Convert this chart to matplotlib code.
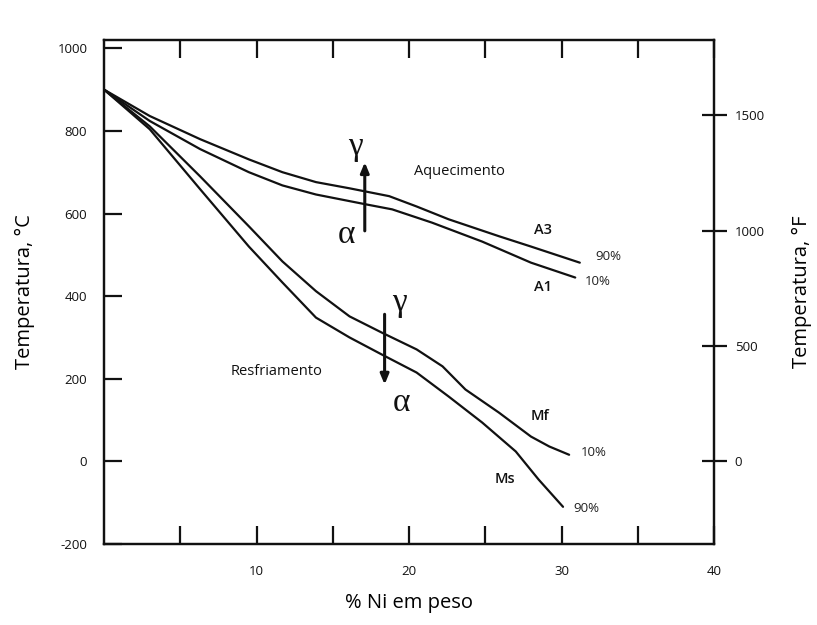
import numpy as np
import matplotlib
matplotlib.use("Agg")
import matplotlib.pyplot as plt

plt.rcParams['font.family'] = ['Open Sans', 'DejaVu Sans']
plt.rcParams['axes.unicode_minus'] = False

# % Ni (weight) vs transformation temperature, degC
a3_x = [0, 3.0, 6.3, 9.5, 11.7, 13.9, 16.1, 18.7, 20.5, 22.6, 25.9, 28.0, 31.2]
a3_y = [900, 836, 780, 731, 700, 676, 661, 642, 617, 586, 545, 520, 481]

a1_x = [0, 3.0, 6.3, 9.5, 11.7, 13.9, 17.2, 18.9, 21.5, 24.8, 28.0, 30.9]
a1_y = [900, 824, 756, 700, 668, 646, 622, 610, 578, 532, 481, 445]

mf_x = [0, 3.0, 6.3, 9.5, 11.7, 13.9, 16.1, 18.2, 20.5, 22.2, 23.7, 25.9, 28.0, 29.2, 30.5]
mf_y = [900, 811, 690, 569, 484, 412, 351, 312, 271, 230, 174, 118, 60, 36, 16]

ms_x = [0, 3.0, 6.3, 9.5, 11.7, 13.9, 16.1, 18.2, 20.5, 22.6, 24.8, 27.0, 28.5, 30.1]
ms_y = [900, 804, 659, 520, 433, 348, 300, 259, 215, 157, 94, 24, -44, -110]

c_ticks = [-200, 0, 200, 400, 600, 800, 1000]
f_ticks = [0, 500, 1000, 1500]
x_ticks = [5, 10, 15, 20, 25, 30, 35, 40]
f_per_c = 1.79

fig = plt.figure(figsize=(8.17, 6.25), dpi=100)
ax = fig.add_axes([104/817, 1 - 544/625, (714 - 104)/817, (544 - 40)/625])

for xs, ys in [(a3_x, a3_y), (a1_x, a1_y), (mf_x, mf_y), (ms_x, ms_y)]:
    ax.plot(xs, ys, color='#111111', lw=1.6, solid_joinstyle='round',
            solid_capstyle='round')

ax.set_xlim(0, 40)
ax.set_ylim(-200, 1020)
ax.set_xticks(x_ticks)
ax.set_xticklabels([str(t) if t % 10 == 0 else '' for t in x_ticks])
ax.set_yticks(c_ticks)
ax.tick_params(axis='x', direction='in', length=13, width=1.6, pad=15,
               labelsize=9.5, top=True, colors='#111111')
ax.tick_params(axis='y', direction='in', length=13, width=1.6, pad=12,
               labelsize=9.5, colors='#111111')
for s in ax.spines.values():
    s.set_linewidth(1.6)
    s.set_color('#111111')

ax.set_xlabel('% Ni em peso', fontsize=14.5, labelpad=11)
ax.set_ylabel('Temperatura, °C', fontsize=14.5, labelpad=16)

# Fahrenheit scale on the right
ax2 = ax.twinx()
ax2.set_ylim(-200 * f_per_c, 1020 * f_per_c)
ax2.set_yticks(f_ticks)
ax2.tick_params(axis='y', direction='inout', length=18, width=1.6, pad=6,
                labelsize=9.5, colors='#111111')
for s in ax2.spines.values():
    s.set_linewidth(1.6)
    s.set_color('#111111')
ax2.set_ylabel('Temperatura, °F', fontsize=14.5)
ax2.yaxis.set_label_coords(1.128, 0.5)

# transformation arrows
arrow = dict(arrowstyle='-|>,head_length=0.6,head_width=0.25',
             lw=2.2, color='#111111', shrinkA=0, shrinkB=0)
ax.annotate('', xy=(17.1, 724), xytext=(17.1, 558), arrowprops=arrow)
ax.annotate('', xy=(18.4, 186), xytext=(18.4, 356), arrowprops=arrow)

greek = dict(family=['Liberation Serif', 'DejaVu Serif'], fontsize=24,
             ha='center', va='center', color='#111111')
ax.text(16.5, 762, 'γ', **greek)
ax.text(15.9, 548, 'α', **greek)
ax.text(19.4, 384, 'γ', **greek)
ax.text(19.5, 142, 'α', **greek)

lab = dict(fontsize=10.5, ha='center', va='center', color='#111111')
ax.text(23.3, 702, 'Aquecimento', **lab)
ax.text(11.3, 217, 'Resfriamento', **lab)
ax.text(28.8, 561, 'A3', fontweight='semibold', **lab)
ax.text(28.8, 423, 'A1', fontweight='semibold', **lab)
ax.text(28.6, 111, 'Mf', fontweight='semibold', **lab)
ax.text(26.3, -42, 'Ms', fontweight='semibold', **lab)

pct = dict(fontsize=9.5, ha='center', va='center', color='#222222')
ax.text(33.1, 496, '90%', **pct)
ax.text(32.4, 436, '10%', **pct)
ax.text(32.1, 21, '10%', **pct)
ax.text(31.6, -113, '90%', **pct)

fig.savefig('out.png', dpi=100)
